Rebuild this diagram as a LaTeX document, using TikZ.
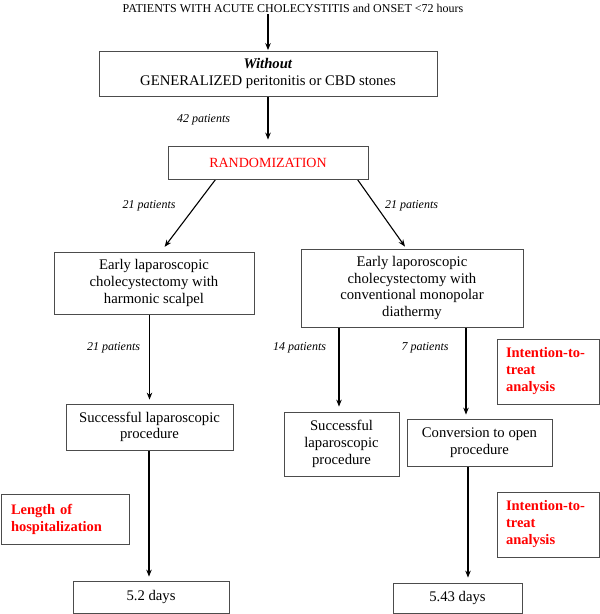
\documentclass[tikz,border=0pt]{standalone}
\usepackage{fontspec}
\setmainfont{Liberation Serif}
\usetikzlibrary{arrows.meta}
\pgfdeclarelayer{bg}
\pgfsetlayers{bg,main}
\tikzset{
    box/.style={draw=black!70, line width=0.8pt, rectangle, align=center, inner sep=0pt, font=\fontsize{14.7}{16.7}\selectfont},
    note/.style={draw=black!70, line width=0.8pt, rectangle, align=left, inner ysep=0pt, text=red, font=\bfseries\fontsize{14.5}{17}\selectfont},
    count/.style={font=\itshape\fontsize{12}{14}\selectfont},
    arr/.style={-{Stealth[length=7pt,width=5.5pt]}, line width=1.1pt, shorten >=4pt},
}
\begin{document}
\begin{tikzpicture}[x=1pt, y=-1pt]
    \useasboundingbox (0,0) rectangle (600,614);

    \node (top) [font=\fontsize{12}{14}\selectfont, inner sep=2pt] at (293, 8) {PATIENTS WITH ACUTE CHOLECYSTITIS and ONSET <72 hours};
    \node (excl) [box, minimum width=338pt, minimum height=45pt] at (268, 73.5) {\textbf{\textit{Without}}\\GENERALIZED peritonitis or CBD stones};
    \node (rand) [box, text=red, font=\fontsize{14}{16}\selectfont, minimum width=200pt, minimum height=33pt] at (268, 162.5) {RANDOMIZATION};
    \node (early1) [box, minimum width=200pt, minimum height=62pt] at (154, 283) {Early laparoscopic\\cholecystectomy with\\harmonic scalpel};
    \node (early2) [box, minimum width=222pt, minimum height=78pt] at (412, 288) {Early laporoscopic\\cholecystectomy with\\conventional monopolar\\diathermy};
    \node (succ1) [box, minimum width=167pt, minimum height=46pt] at (149.5, 427) {Successful laparoscopic\\procedure};
    \node (succ2) [box, minimum width=115pt, minimum height=64pt] at (341.5, 444) {Successful\\laparoscopic\\procedure};
    \node (conv) [box, minimum width=145pt, minimum height=47pt] at (479.5, 442.5) {Conversion to open\\procedure};
    \node (days1) [box, minimum width=156pt, minimum height=32pt] at (151, 597) {5.2 days};
    \node (days2) [box, minimum width=129pt, minimum height=30pt] at (457.5, 598) {5.43 days};

    \node (itt1) [note, text width=84pt, inner xsep=9pt, minimum height=65pt] at (548, 371.5) {Intention-to-\\treat\\analysis};
    \node (itt2) [note, text width=84pt, inner xsep=9pt, minimum height=65pt] at (548, 524.5) {Intention-to-\\treat\\analysis};
    \node (los) [note, text width=108pt, inner xsep=10pt, minimum height=50pt] at (65, 519) {Length of\\hospitalization};

    \node (n42) [count] at (203.5, 120) {42 patients};
    \node (n21a) [count] at (149, 206) {21 patients};
    \node (n21b) [count] at (411.5, 206) {21 patients};
    \node (n21c) [count] at (113.5, 348) {21 patients};
    \node (n14) [count] at (299.5, 348) {14 patients};
    \node (n7) [count] at (425, 348) {7 patients};

    \begin{pgfonlayer}{bg}
        \draw (top.south -| excl.north) edge[arr, shorten >=0.5pt] (excl.north);
        \draw (excl.south) edge[arr, shorten >=6pt] (rand.north);
        \draw ([xshift=48pt]rand.south west) edge[arr, shorten >=6pt] ([xshift=7pt]early1.north);
        \draw ([xshift=-11pt]rand.south east) edge[arr, shorten >=2.5pt] ([xshift=-5.6pt]early2.north);
        \draw (succ1.north |- early1.south) edge[arr] (succ1.north);
        \draw ([xshift=-2.5pt]succ2.north |- early2.south) edge[arr, shorten >=5pt] ([xshift=-2.5pt]succ2.north);
        \draw ([xshift=-13.5pt]conv.north |- early2.south) edge[arr] ([xshift=-13.5pt]conv.north);
        \draw ([xshift=-0.5pt]succ1.south) edge[arr] ([xshift=-0.5pt]succ1.south |- days1.north);
        \draw ([xshift=-11.5pt]conv.south) edge[arr, shorten >=5pt] ([xshift=-11.5pt]conv.south |- days2.north);
    \end{pgfonlayer}
\end{tikzpicture}
\end{document}
